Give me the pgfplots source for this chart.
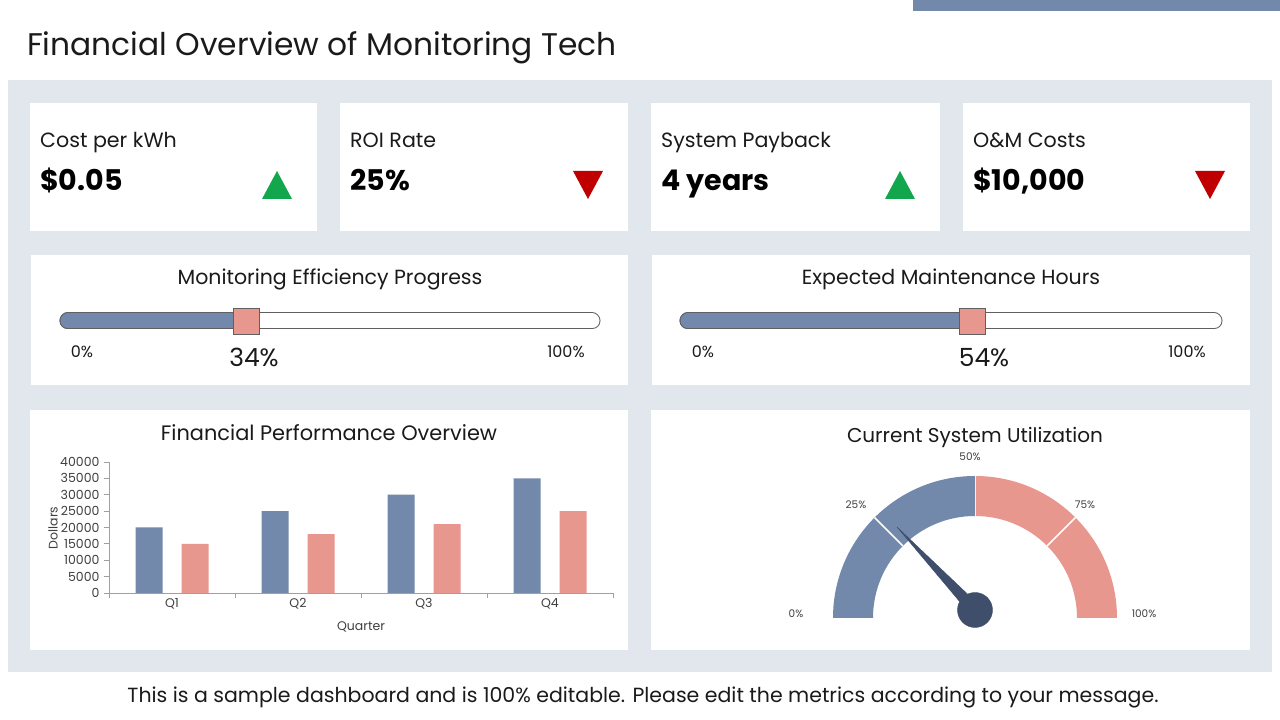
\documentclass[border=0pt]{standalone}
\usepackage{pgfplots}
\pgfplotsset{compat=1.18}
\usepackage{fontspec}
\setmainfont{Poppins}
\definecolor{panelbg}{HTML}{E2E7EE}
\definecolor{gblue}{HTML}{7289AB}
\definecolor{gpink}{HTML}{E8978F}
\definecolor{navy}{HTML}{3F4E6B}
\definecolor{upgreen}{HTML}{12A64D}
\definecolor{downred}{HTML}{C00000}
\definecolor{axisgray}{HTML}{A0A0A0}
\definecolor{txt}{HTML}{1A1A1A}
\definecolor{ticktxt}{HTML}{404040}
\definecolor{trackgray}{HTML}{606060}
\newcommand{\fs}[1]{\fontsize{#1}{#1}\selectfont}
\begin{document}
\begin{tikzpicture}[x=1pt,y=1pt]
\fill[white] (0,0) rectangle (1280,720);
\begin{scope}[shift={(0,720)},yscale=-1]
  \fill[gblue] (913,0) rectangle (1280,11);
  \node[anchor=base west, inner sep=0, text=txt] at (27,56) {\fs{31.3}Financial Overview of Monitoring Tech};
  \fill[panelbg] (8,80) rectangle (1272,672);
  % KPI cards
  \fill[white] (30,103) rectangle (317,231);
  \fill[white] (340,103) rectangle (628,231);
  \fill[white] (651,103) rectangle (940,231);
  \fill[white] (963,103) rectangle (1250,231);
  % slider cards
  \fill[white] (31,255) rectangle (628,385);
  \fill[white] (652,255) rectangle (1250,385);
  % bottom cards
  \fill[white] (30,410) rectangle (628,650);
  \fill[white] (651,410) rectangle (1250,650);
  % KPI texts
  \node[anchor=base west, inner sep=0, text=txt] at (40,148) {\fs{20.6}Cost per kWh};
  \node[anchor=base west, inner sep=0, text=black] at (40,191) {\fs{28.5}\bfseries \$0.05};
  \node[anchor=base west, inner sep=0, text=txt] at (350,148) {\fs{20.6}ROI Rate};
  \node[anchor=base west, inner sep=0, text=black] at (350,191) {\fs{28.5}\bfseries 25\%};
  \node[anchor=base west, inner sep=0, text=txt] at (661,148) {\fs{20.6}System Payback};
  \node[anchor=base west, inner sep=0, text=black] at (661,191) {\fs{28.5}\bfseries 4 years};
  \node[anchor=base west, inner sep=0, text=txt] at (973,148) {\fs{20.6}O\&M Costs};
  \node[anchor=base west, inner sep=0, text=black] at (973,191) {\fs{28.5}\bfseries \$10,000};
  % arrows
  \fill[upgreen] (262,199) -- (292,199) -- (277,171) -- cycle;
  \fill[downred] (573,171) -- (603,171) -- (588,199) -- cycle;
  \fill[upgreen] (885,199) -- (915,199) -- (900,171) -- cycle;
  \fill[downred] (1195,171) -- (1225,171) -- (1210,199) -- cycle;
  % slider texts
  \node[anchor=base, inner sep=0, text=txt] at (330,285) {\fs{20.5}Monitoring Efficiency Progress};
  \node[anchor=base, inner sep=0, text=txt] at (82,358) {\fs{16}0\%};
  \node[anchor=base, inner sep=0, text=txt] at (566,358) {\fs{16}100\%};
  \node[anchor=base, inner sep=0, text=txt] at (254,367) {\fs{25}34\%};
  \node[anchor=base, inner sep=0, text=txt] at (951,285) {\fs{20.5}Expected Maintenance Hours};
  \node[anchor=base, inner sep=0, text=txt] at (703,358) {\fs{16}0\%};
  \node[anchor=base, inner sep=0, text=txt] at (1187,358) {\fs{16}100\%};
  \node[anchor=base, inner sep=0, text=txt] at (984,367) {\fs{25}54\%};
  % bottom titles
  \node[anchor=base, inner sep=0, text=txt] at (329,441) {\fs{20.9}Financial Performance Overview};
  \node[anchor=base, inner sep=0, text=txt] at (975,443) {\fs{20}Current System Utilization};
  \node[anchor=base, inner sep=0, text=ticktxt] at (361,631) {\fs{12.5}Quarter};
  \node[rotate=90, inner sep=0, text=ticktxt] at (53,528) {\fs{12.5}Dollars};
  % gauge labels
  \node[inner sep=0, text=ticktxt] at (796,614) {\fs{10.5}0\%};
  \node[inner sep=0, text=ticktxt] at (856,505) {\fs{10.5}25\%};
  \node[inner sep=0, text=ticktxt] at (970,457) {\fs{10.5}50\%};
  \node[inner sep=0, text=ticktxt] at (1085,505) {\fs{10.5}75\%};
  \node[inner sep=0, text=ticktxt] at (1144,614) {\fs{10.5}100\%};
  % footer
  \node[anchor=base, inner sep=0, text=txt] at (643,703) {\fs{20.5}This is a sample dashboard and is 100\% editable. Please edit the metrics according to your message.};
\end{scope}

% ---------- bar chart ----------
\begin{axis}[at={(109pt,127pt)}, anchor=south west, scale only axis,
  width=504pt, height=131pt,
  xmin=-0.5, xmax=3.5, ymin=0, ymax=40000,
  ytick={0,5000,...,40000}, scaled y ticks=false,
  xtick={-0.5,0.5,1.5,2.5,3.5}, xticklabels={},
  extra x ticks={0,1,2,3}, extra x tick labels={Q1,Q2,Q3,Q4},
  extra x tick style={major tick length=0pt},
  axis x line=bottom, axis y line=left,
  axis line style={-, draw=axisgray, line width=0.8pt},
  tick style={draw=axisgray, line width=0.8pt},
  tick align=outside, major tick length=5pt,
  ticklabel style={font=\fs{12.5}, text=ticktxt},
  /pgf/number format/.cd, 1000 sep={}, assume math mode=true, /pgfplots/.cd,
  yticklabel style={xshift=-1pt},
  xticklabel style={yshift=-2pt},
  clip=false]
  \addplot[ybar, bar width=27pt, bar shift=-23pt, fill=gblue, draw=none]
    coordinates {(0,20000) (1,25000) (2,30000) (3,35000)};
  \addplot[ybar, bar width=27pt, bar shift=23pt, fill=gpink, draw=none]
    coordinates {(0,15000) (1,18000) (2,21000) (3,25000)};
\end{axis}

% ---------- slider 1 ----------
\begin{axis}[at={(68pt,399pt)}, anchor=west, scale only axis,
  width=524pt, height=30pt, xmin=0, xmax=100, ymin=-1, ymax=1,
  hide axis, clip=false]
  \draw[trackgray, line width=17pt, line cap=round] (axis cs:0,0) -- (axis cs:100,0);
  \draw[white, line width=15pt, line cap=round] (axis cs:0,0) -- (axis cs:100,0);
  \addplot[trackgray, line width=17pt, line cap=round] coordinates {(0,0) (34,0)};
  \addplot[gblue, line width=15pt, line cap=round] coordinates {(0,0) (34,0)};
  \addplot[only marks, mark=square*, mark size=13pt,
    mark options={fill=gpink, draw=trackgray, line width=0.9pt}] coordinates {(34,0)};
\end{axis}

% ---------- slider 2 ----------
\begin{axis}[at={(688pt,399pt)}, anchor=west, scale only axis,
  width=526pt, height=30pt, xmin=0, xmax=100, ymin=-1, ymax=1,
  hide axis, clip=false]
  \draw[trackgray, line width=17pt, line cap=round] (axis cs:0,0) -- (axis cs:100,0);
  \draw[white, line width=15pt, line cap=round] (axis cs:0,0) -- (axis cs:100,0);
  \addplot[trackgray, line width=17pt, line cap=round] coordinates {(0,0) (54,0)};
  \addplot[gblue, line width=15pt, line cap=round] coordinates {(0,0) (54,0)};
  \addplot[only marks, mark=square*, mark size=13pt,
    mark options={fill=gpink, draw=trackgray, line width=0.9pt}] coordinates {(54,0)};
\end{axis}

% ---------- gauge ----------
\begin{axis}[at={(815pt,82pt)}, anchor=south west, scale only axis,
  width=320pt, height=190pt, xmin=-160, xmax=160, ymin=-20, ymax=170,
  hide axis, clip=false]
  \fill[gblue] (axis cs:-142,0) arc[start angle=180, end angle=90, radius=142pt]
     -- (axis cs:0,102) arc[start angle=90, end angle=180, radius=102pt] -- cycle;
  \fill[gpink] (axis cs:0,142) arc[start angle=90, end angle=0, radius=142pt]
     -- (axis cs:102,0) arc[start angle=0, end angle=90, radius=102pt] -- cycle;
  \draw[white, line width=1.6pt] (axis cs:-72.1,72.1) -- (axis cs:-100.4,100.4);
  \draw[white, line width=1.6pt] (axis cs:72.1,72.1) -- (axis cs:100.4,100.4);
  \draw[white!85!gpink, line width=0.6pt] (axis cs:0,102) -- (axis cs:0,142);
  % needle at 26%
  \addplot[fill=navy, draw=navy, line join=round] coordinates {(4.6,12.4) (-78.1,91.1) (-4.6,3.6)} -- cycle;
  \addplot[only marks, mark=*, mark size=17.5pt, mark options={fill=navy, draw=navy}] coordinates {(0,8)};
\end{axis}

\pgfresetboundingbox
\path (0,0) rectangle (1280,720);
\end{tikzpicture}
\end{document}
